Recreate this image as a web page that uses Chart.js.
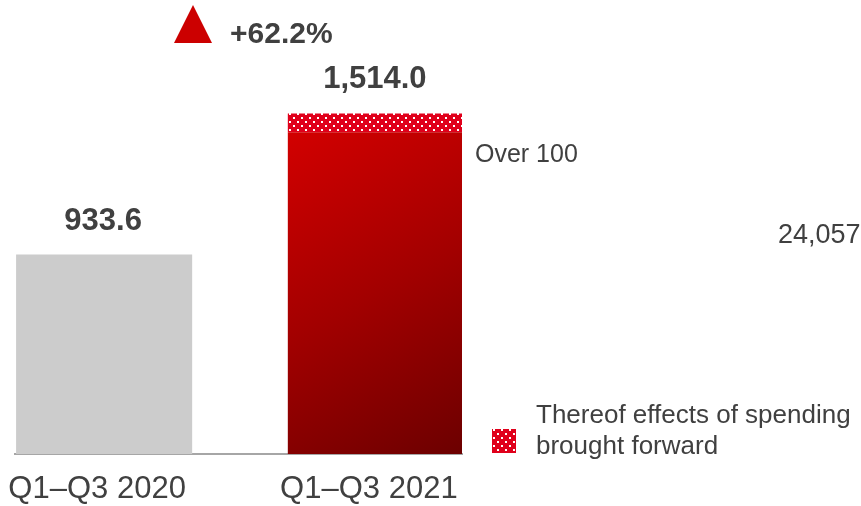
<!DOCTYPE html>
<html>
<head>
<meta charset="utf-8">
<script src="https://cdn.jsdelivr.net/npm/chart.js@4"></script>
<style>
  body { margin: 0; background: #fff; }
</style>
</head>
<body>
<canvas id="chart" width="861" height="506"></canvas>
<script>
const categories = ['Q1–Q3 2020', 'Q1–Q3 2021'];
const baseValues = [933.6, 1436.0];
const broughtForward = [0, 78.0];
const forwardNote = 'Over 100';
const sideNote = '24,057';
const legendLabel = 'Thereof effects of spending\nbrought forward';

const textColor = '#404040';
const barPct = 0.648;

// dotted red fill for the brought forward part
function dotPattern() {
    const c = document.createElement('canvas');
    c.width = 8; c.height = 8;
    const p = c.getContext('2d');
    p.fillStyle = '#e0001b';
    p.fillRect(0, 0, 8, 8);
    p.fillStyle = '#ffffff';
    p.fillRect(1, 1, 2, 2);
    p.fillRect(5, 5, 2, 2);
    return p.createPattern(c, 'repeat');
}
const pattern = dotPattern();

function redGradient(chart) {
    const { ctx, chartArea, scales } = chart;
    if (!chartArea) return '#b00000';
    const xl = scales.x.getPixelForValue(1 - barPct / 2);
    const xr = scales.x.getPixelForValue(1 + barPct / 2);
    const top = scales.y.getPixelForValue(baseValues[1]);
    const g = ctx.createLinearGradient(xl, top, xr, chartArea.bottom);
    g.addColorStop(0, '#d20000');
    g.addColorStop(0.5, '#a20000');
    g.addColorStop(1, '#6c0000');
    return g;
}

const totals = baseValues.map((v, i) => v + broughtForward[i]);
const growth = (totals[1] / totals[0] - 1) * 100;

const annotations = {
    id: 'annotations',
    afterDraw(chart) {
        const { ctx, scales } = chart;
        ctx.save();
        ctx.fillStyle = textColor;
        ctx.textBaseline = 'alphabetic';

        // totals over the bars
        ctx.font = 'bold 31px "Liberation Sans", Arial, sans-serif';
        ctx.textAlign = 'center';
        totals.forEach((t, i) => {
            const x = scales.x.getPixelForValue(i);
            const y = scales.y.getPixelForValue(t);
            ctx.fillText(t.toLocaleString('en-US', { minimumFractionDigits: 1, maximumFractionDigits: 1 }), x - 1, y - 25);
        });

        // growth marker
        ctx.fillStyle = '#cc0000';
        ctx.beginPath();
        ctx.moveTo(193, 5);
        ctx.lineTo(212, 43);
        ctx.lineTo(174, 43);
        ctx.closePath();
        ctx.fill();
        ctx.fillStyle = textColor;
        ctx.textAlign = 'left';
        ctx.font = 'bold 30px "Liberation Sans", Arial, sans-serif';
        ctx.fillText('+' + growth.toFixed(1) + '%', 230, 43);

        // notes
        ctx.font = '25px "Liberation Sans", Arial, sans-serif';
        ctx.fillText(forwardNote, 475, 162);
        ctx.font = '27px "Liberation Sans", Arial, sans-serif';
        ctx.fillText(sideNote, 778, 243);

        // legend
        ctx.fillStyle = pattern;
        ctx.fillRect(492, 429, 24, 24);
        ctx.fillStyle = textColor;
        ctx.font = '26px "Liberation Sans", Arial, sans-serif';
        legendLabel.split('\n').forEach((line, i) => {
            ctx.fillText(line, 536, 423 + i * 31);
        });
        ctx.restore();
    }
};

new Chart(document.getElementById('chart'), {
    type: 'bar',
    data: {
        datasets: [{
            label: 'Total',
            data: baseValues.map((v, i) => ({ x: i, y: v })),
            backgroundColor: (c) => c.dataIndex === 0 ? '#cccccc' : redGradient(c.chart),
            barPercentage: barPct,
            categoryPercentage: 1,
        }, {
            label: legendLabel,
            data: broughtForward.map((v, i) => ({ x: i, y: v })),
            backgroundColor: pattern,
            barPercentage: barPct,
            categoryPercentage: 1,
        }],
    },
    options: {
        responsive: false,
        animation: false,
        layout: { padding: { left: 15, right: 399, top: 0, bottom: 0 } },
        plugins: {
            legend: { display: false },
            tooltip: { enabled: false },
        },
        scales: {
            x: {
                type: 'linear',
                stacked: true,
                offset: false,
                min: -0.328,
                max: 1.317,
                grid: { display: false, drawTicks: false, offset: false },
                border: { display: true, color: '#a6a6a6', width: 2 },
                afterBuildTicks: (axis) => { axis.ticks = categories.map((_, i) => ({ value: i })); },
                afterFit: (axis) => {
                    axis.height = 52;
                    axis.paddingLeft = 0;
                    axis.paddingRight = 0;
                },
                ticks: {
                    autoSkip: false,
                    maxRotation: 0,
                    padding: 17,
                    labelOffset: -7,
                    color: textColor,
                    font: { family: '"Liberation Sans", Arial, sans-serif', size: 31 },
                    callback: (v) => categories[v],
                },
            },
            y: {
                display: false,
                stacked: true,
                min: 114,
                max: 1980,
            },
        },
    },
    plugins: [annotations],
});
</script>
</body>
</html>
